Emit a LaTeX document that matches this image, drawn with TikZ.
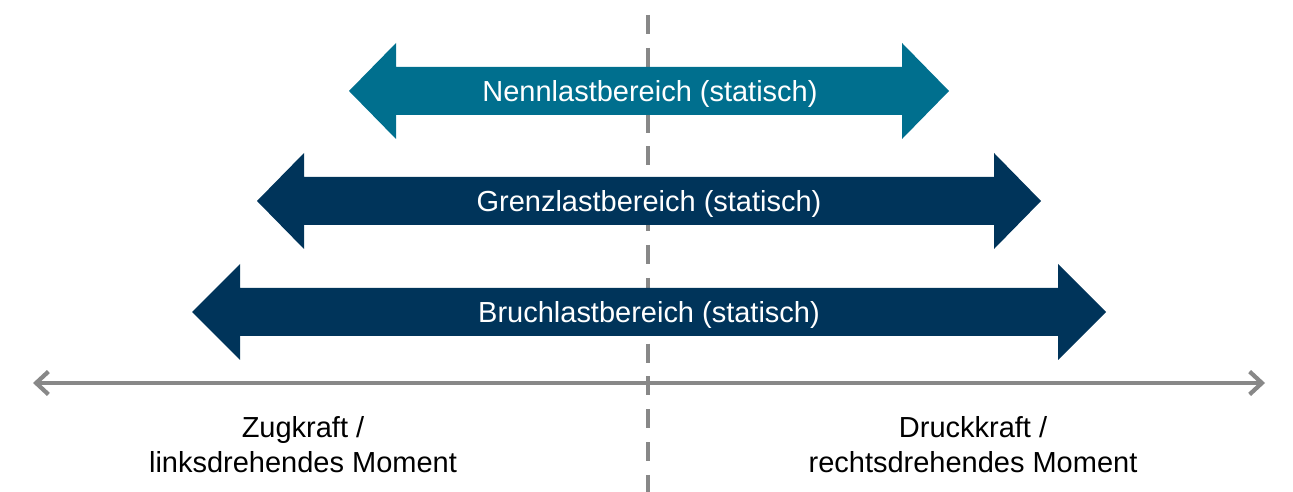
\documentclass[tikz,border=0pt]{standalone}
\usepackage{fontspec}
\setmainfont{Liberation Sans}
\usetikzlibrary{arrows.meta}
\definecolor{nennblau}{HTML}{006F8E}
\definecolor{lastblau}{HTML}{00345A}
\definecolor{achsgrau}{HTML}{888888}
\tikzset{
	nennpfeil/.style={fill=nennblau},
	lastpfeil/.style={fill=lastblau},
	achse/.style={line width=2.4pt, achsgrau, {Straight Barb[length=7pt,width=13pt]}-{Straight Barb[length=7pt,width=13pt]}},
	mittellinie/.style={line width=2.3pt, achsgrau, dash pattern=on 10.8pt off 7.9pt},
	pfeiltext/.style={text=white, font=\fontsize{16.5}{20}\selectfont},
	seitentext/.style={align=center, font=\fontsize{16.5}{20}\selectfont}
}
\begin{document}
\begin{tikzpicture}[x=0.02cm, y=-0.02cm]
		\useasboundingbox (0,0) rectangle (1293,492);
		% Mittellinie
		\coordinate (oben) at (648,15);
		\coordinate (unten) at (648,492);
		\draw[mittellinie] (oben) -- (unten);
		% Lastbereiche
		\fill[nennpfeil] (349,91) -- (396,43) -- (396,67) -- (902,67) -- (902,43) -- (949,91) -- (902,139) -- (902,115) -- (396,115) -- (396,139) -- cycle;
		\fill[lastpfeil] (257,201) -- (304,153) -- (304,177) -- (994,177) -- (994,153) -- (1041,201) -- (994,249) -- (994,225) -- (304,225) -- (304,249) -- cycle;
		\fill[lastpfeil] (192,312) -- (240,264) -- (240,288) -- (1058,288) -- (1058,264) -- (1106,312) -- (1058,360) -- (1058,336) -- (240,336) -- (240,360) -- cycle;
		\node[pfeiltext] (nennText) at (650,94) {Nennlastbereich (statisch)};
		\node[pfeiltext] (grenzText) at (649,204) {Grenzlastbereich (statisch)};
		\node[pfeiltext] (bruchText) at (649,315) {Bruchlastbereich (statisch)};
		% Achse
		\coordinate (links) at (33,383);
		\coordinate (rechts) at (1265,383);
		\draw[achse] (links) -- (rechts);
		\node[seitentext] (zugText) at (303,445) {Zugkraft /\\linksdrehendes Moment};
		\node[seitentext] (druckText) at (973,445) {Druckkraft /\\rechtsdrehendes Moment};
\end{tikzpicture}
\end{document}
